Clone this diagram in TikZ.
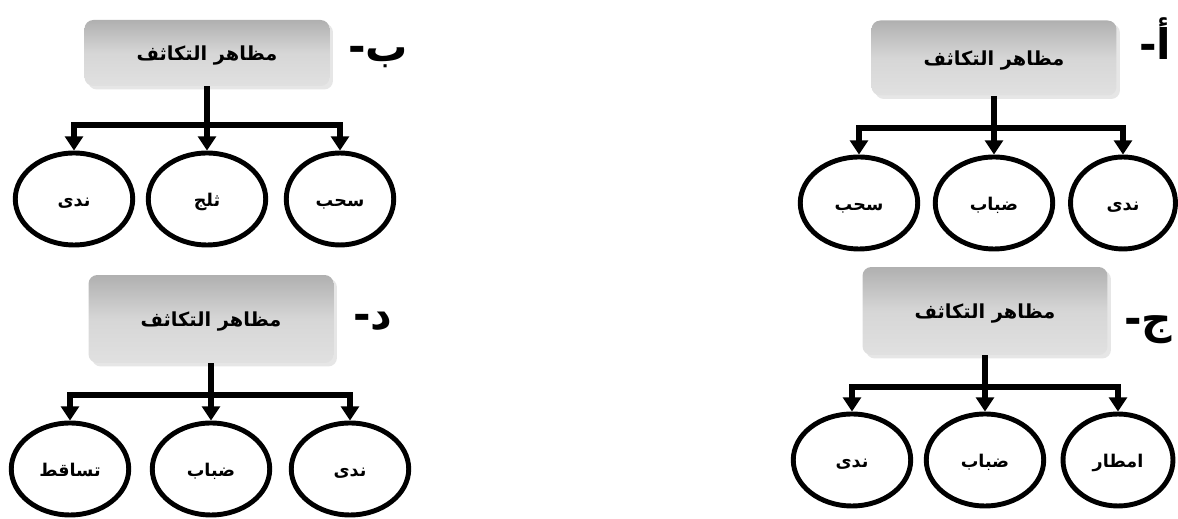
\documentclass[tikz,border=0pt]{standalone}
\usepackage{fontspec}
\newfontfamily\arabicfont[Script=Arabic]{DejaVu Sans}
\TeXXeTstate=1
\usetikzlibrary{arrows.meta,shapes.geometric,shadows}

\newcommand{\artxt}[1]{\arabicfont\bfseries\beginR #1\endR}

\begin{document}
\begin{tikzpicture}[x=0.02cm,y=-0.02cm,
  head/.style={rounded corners=5pt,top color=gray!62,bottom color=gray!24,
    middle color=gray!32,minimum width=4.9cm,minimum height=1.5cm,inner sep=0pt,
    text height=10pt,text depth=1pt,
    drop shadow={opacity=0.2,shadow xshift=2pt,shadow yshift=-2pt},
    font=\fontsize{11}{13}\selectfont},
  leaf/.style={ellipse,draw,line width=2.8pt,minimum width=2.35cm,
    minimum height=1.84cm,inner sep=0pt,text height=9pt,text depth=1pt,
    font=\fontsize{10}{12}\selectfont},
  tag/.style={anchor=base,font=\fontsize{24}{26}\selectfont},
  conn/.style={line width=3.2pt},
  arr/.style={conn,-{Triangle[width=10pt,length=8pt]}}]

  \useasboundingbox (0,0) rectangle (1178,519);

  % b
  \node[head,minimum height=1.32cm] (hB) at (207,53) {\artxt{مظاهر التكاثف}};
  \node[tag] (tB) at (378,62) {\artxt{ب-}};
  \coordinate (jB) at (207,125);
  \node[leaf] (b1) at (74,199) {\artxt{ندى}};
  \node[leaf] (b2) at (207,199) {\artxt{ثلج}};
  \node[leaf,minimum width=2.15cm] (b3) at (340,199) {\artxt{سحب}};
  \draw[conn] (hB) -- (jB);
  \draw[arr] (jB) -| (b1.north);
  \draw[arr] (jB) -- (b2.north);
  \draw[arr] (jB) -| (b3.north);

  % a
  \node[head] (hA) at (994,58) {\artxt{مظاهر التكاثف}};
  \node[tag] (tA) at (1155,60) {\artxt{أ-}};
  \coordinate (jA) at (994,128);
  \node[leaf] (a1) at (859,203) {\artxt{سحب}};
  \node[leaf] (a2) at (994,203) {\artxt{ضباب}};
  \node[leaf,minimum width=2.1cm] (a3) at (1123,203) {\artxt{ندى}};
  \draw[conn] (hA) -- (jA);
  \draw[arr] (jA) -| (a1.north);
  \draw[arr] (jA) -- (a2.north);
  \draw[arr] (jA) -| (a3.north);

  % d
  \node[head,minimum height=1.76cm] (hD) at (211,319) {\artxt{مظاهر التكاثف}};
  \node[tag] (tD) at (373,330) {\artxt{د-}};
  \coordinate (jD) at (211,395);
  \node[leaf] (d1) at (70,469) {\artxt{تساقط}};
  \node[leaf] (d2) at (211,469) {\artxt{ضباب}};
  \node[leaf] (d3) at (350,469) {\artxt{ندى}};
  \draw[conn] (hD) -- (jD);
  \draw[arr] (jD) -| (d1.north);
  \draw[arr] (jD) -- (d2.north);
  \draw[arr] (jD) -| (d3.north);

  % j
  \node[head,minimum height=1.76cm] (hC) at (985,311) {\artxt{مظاهر التكاثف}};
  \node[tag] (tC) at (1148,334) {\artxt{ج-}};
  \coordinate (jC) at (985,387);
  \node[leaf] (c1) at (852,460) {\artxt{ندى}};
  \node[leaf] (c2) at (985,460) {\artxt{ضباب}};
  \node[leaf,minimum width=2.2cm] (c3) at (1118,460) {\artxt{امطار}};
  \draw[conn] (hC) -- (jC);
  \draw[arr] (jC) -| (c1.north);
  \draw[arr] (jC) -- (c2.north);
  \draw[arr] (jC) -| (c3.north);
\end{tikzpicture}
\end{document}
